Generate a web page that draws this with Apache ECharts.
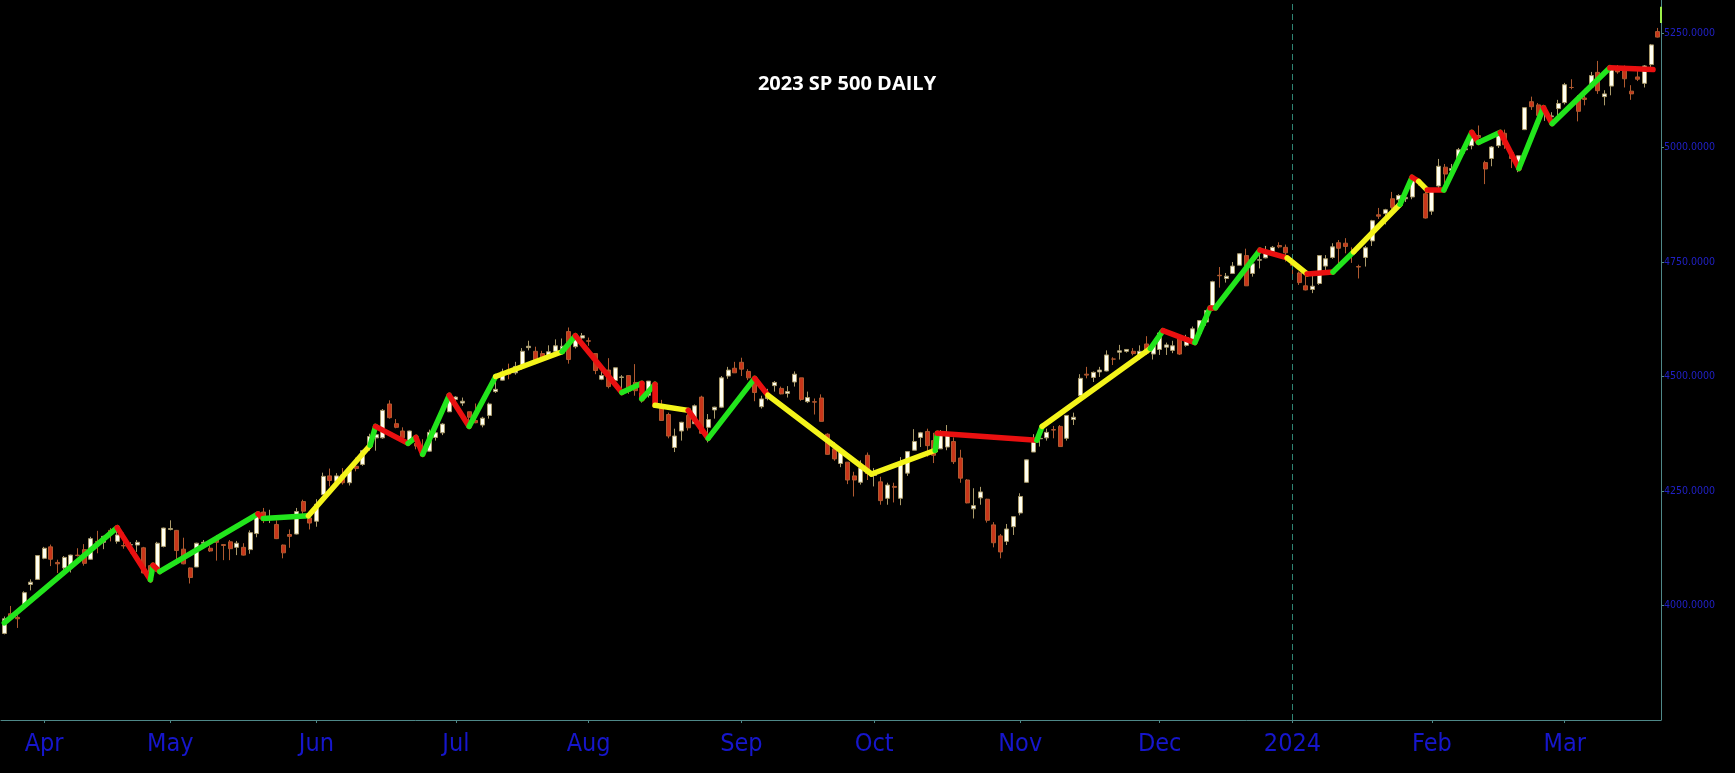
<!DOCTYPE html>
<html><head><meta charset="utf-8">
<script src="https://cdn.jsdelivr.net/npm/echarts@6/dist/echarts.min.js"></script>
<style>html,body{margin:0;padding:0;background:#000;} #c{width:1735px;height:773px;}</style>
</head><body><div id="c"></div>
<script>
const dates = [
'2023-03-24','2023-03-27','2023-03-28','2023-03-29','2023-03-30','2023-03-31',
'2023-04-03','2023-04-04','2023-04-05','2023-04-06','2023-04-10','2023-04-11','2023-04-12','2023-04-13','2023-04-14','2023-04-17','2023-04-18','2023-04-19','2023-04-20','2023-04-21','2023-04-24','2023-04-25','2023-04-26','2023-04-27','2023-04-28',
'2023-05-01','2023-05-02','2023-05-03','2023-05-04','2023-05-05','2023-05-08','2023-05-09','2023-05-10','2023-05-11','2023-05-12','2023-05-15','2023-05-16','2023-05-17','2023-05-18','2023-05-19','2023-05-22','2023-05-23','2023-05-24','2023-05-25','2023-05-26','2023-05-30','2023-05-31',
'2023-06-01','2023-06-02','2023-06-05','2023-06-06','2023-06-07','2023-06-08','2023-06-09','2023-06-12','2023-06-13','2023-06-14','2023-06-15','2023-06-16','2023-06-20','2023-06-21','2023-06-22','2023-06-23','2023-06-26','2023-06-27','2023-06-28','2023-06-29','2023-06-30',
'2023-07-03','2023-07-05','2023-07-06','2023-07-07','2023-07-10','2023-07-11','2023-07-12','2023-07-13','2023-07-14','2023-07-17','2023-07-18','2023-07-19','2023-07-20','2023-07-21','2023-07-24','2023-07-25','2023-07-26','2023-07-27','2023-07-28','2023-07-31',
'2023-08-01','2023-08-02','2023-08-03','2023-08-04','2023-08-07','2023-08-08','2023-08-09','2023-08-10','2023-08-11','2023-08-14','2023-08-15','2023-08-16','2023-08-17','2023-08-18','2023-08-21','2023-08-22','2023-08-23','2023-08-24','2023-08-25','2023-08-28','2023-08-29','2023-08-30','2023-08-31',
'2023-09-01','2023-09-05','2023-09-06','2023-09-07','2023-09-08','2023-09-11','2023-09-12','2023-09-13','2023-09-14','2023-09-15','2023-09-18','2023-09-19','2023-09-20','2023-09-21','2023-09-22','2023-09-25','2023-09-26','2023-09-27','2023-09-28','2023-09-29',
'2023-10-02','2023-10-03','2023-10-04','2023-10-05','2023-10-06','2023-10-09','2023-10-10','2023-10-11','2023-10-12','2023-10-13','2023-10-16','2023-10-17','2023-10-18','2023-10-19','2023-10-20','2023-10-23','2023-10-24','2023-10-25','2023-10-26','2023-10-27','2023-10-30','2023-10-31',
'2023-11-01','2023-11-02','2023-11-03','2023-11-06','2023-11-07','2023-11-08','2023-11-09','2023-11-10','2023-11-13','2023-11-14','2023-11-15','2023-11-16','2023-11-17','2023-11-20','2023-11-21','2023-11-22','2023-11-24','2023-11-27','2023-11-28','2023-11-29','2023-11-30',
'2023-12-01','2023-12-04','2023-12-05','2023-12-06','2023-12-07','2023-12-08','2023-12-11','2023-12-12','2023-12-13','2023-12-14','2023-12-15','2023-12-18','2023-12-19','2023-12-20','2023-12-21','2023-12-22','2023-12-26','2023-12-27','2023-12-28','2023-12-29',
'2024-01-02','2024-01-03','2024-01-04','2024-01-05','2024-01-08','2024-01-09','2024-01-10','2024-01-11','2024-01-12','2024-01-16','2024-01-17','2024-01-18','2024-01-19','2024-01-22','2024-01-23','2024-01-24','2024-01-25','2024-01-26','2024-01-29','2024-01-30','2024-01-31',
'2024-02-01','2024-02-02','2024-02-05','2024-02-06','2024-02-07','2024-02-08','2024-02-09','2024-02-12','2024-02-13','2024-02-14','2024-02-15','2024-02-16','2024-02-20','2024-02-21','2024-02-22','2024-02-23','2024-02-26','2024-02-27','2024-02-28','2024-02-29',
'2024-03-01','2024-03-04','2024-03-05','2024-03-06','2024-03-07','2024-03-08','2024-03-11','2024-03-12','2024-03-13','2024-03-14','2024-03-15','2024-03-18','2024-03-19','2024-03-20','2024-03-21'
];
const open = [
3939,3982,3974,3999,4046,4057,
4103,4128,4094,4082,4085,4110,4122,4101,4140,4138,4164,4140,4131,4132,4132,4126,4087,4075,4129,
4166,4164,4123,4082,4084,4136,4125,4144,4133,4139,4127,4127,4122,4157,4204,4191,4177,4132,4155,4156,4227,4191,
4184,4242,4283,4271,4285,4268,4304,4308,4346,4366,4366,4440,4397,4381,4355,4354,4344,4337,4367,4377,4423,
4450,4442,4423,4404,4394,4415,4467,4492,4514,4508,4521,4563,4555,4550,4544,4555,4559,4598,4565,4584,
4578,4550,4494,4514,4491,4498,4502,4487,4451,4459,4479,4434,4417,4345,4381,4415,4397,4455,4389,4427,4433,4501,4518,
4531,4511,4491,4434,4452,4480,4474,4463,4488,4497,4445,4445,4453,4374,4342,4310,4313,4283,4269,4328,
4284,4270,4234,4260,4234,4289,4339,4367,4380,4360,4342,4346,4358,4322,4274,4211,4235,4232,4176,4152,4140,4172,
4202,4269,4335,4364,4366,4384,4391,4365,4406,4458,4505,4498,4510,4512,4538,4553,4555,4555,4546,4571,4549,
4559,4564,4557,4587,4568,4577,4594,4619,4646,4721,4714,4725,4743,4764,4725,4754,4759,4773,4786,4782,
4745,4726,4698,4690,4703,4741,4760,4792,4791,4772,4740,4760,4796,4853,4856,4888,4886,4888,4892,4925,4899,
4861,4916,4957,4950,4973,4995,5004,5026,4967,4976,5004,5031,4989,4963,5039,5100,5093,5074,5067,5085,
5098,5131,5110,5108,5132,5164,5111,5134,5174,5175,5123,5154,5140,5181,5253
];
const close = [
3971,3977,3971,4028,4051,4109,
4125,4101,4091,4105,4110,4109,4092,4146,4138,4151,4155,4154,4130,4133,4138,4071,4056,4136,4169,
4168,4120,4091,4061,4136,4138,4119,4138,4131,4124,4136,4110,4159,4198,4192,4193,4146,4115,4151,4205,4206,4180,
4221,4282,4273,4283,4268,4294,4299,4338,4369,4373,4426,4410,4389,4366,4381,4348,4328,4378,4377,4396,4450,
4455,4446,4411,4399,4409,4440,4472,4510,4505,4522,4555,4566,4535,4536,4554,4567,4566,4537,4582,4589,
4577,4513,4502,4478,4519,4499,4468,4469,4464,4490,4437,4404,4370,4370,4400,4388,4436,4376,4406,4433,4497,4514,4508,
4516,4497,4465,4451,4458,4487,4462,4467,4505,4450,4454,4444,4402,4330,4320,4337,4274,4274,4300,4288,
4288,4229,4263,4258,4308,4336,4358,4377,4349,4328,4374,4374,4314,4278,4224,4218,4248,4186,4137,4117,4167,4194,
4238,4318,4358,4365,4378,4383,4347,4415,4411,4496,4503,4509,4514,4547,4538,4556,4559,4550,4555,4551,4568,
4595,4569,4567,4549,4585,4604,4622,4644,4707,4720,4719,4741,4768,4698,4746,4755,4775,4782,4783,4770,
4743,4705,4689,4697,4764,4757,4783,4780,4784,4766,4739,4781,4840,4850,4864,4869,4895,4891,4928,4925,4846,
4906,4959,4942,4954,4995,4997,5027,5022,4953,5001,5030,5006,4976,4982,5087,5089,5070,5079,5069,5096,
5137,5131,5079,5105,5157,5124,5117,5175,5165,5150,5117,5149,5178,5224,5241
];
const low = [
3937,3969,3951,3999,4033,4056,
4101,4086,4071,4077,4072,4107,4087,4100,4114,4123,4140,4135,4124,4114,4117,4071,4049,4075,4127,
4164,4089,4090,4048,4084,4124,4117,4098,4099,4099,4110,4109,4113,4149,4180,4180,4145,4103,4126,4155,4192,4166,
4172,4242,4260,4263,4264,4262,4293,4305,4338,4338,4364,4408,4387,4360,4351,4341,4328,4336,4360,4372,4422,
4442,4436,4385,4398,4389,4408,4464,4491,4494,4504,4515,4557,4527,4532,4542,4551,4547,4528,4561,4577,
4567,4505,4492,4474,4491,4464,4462,4458,4443,4454,4432,4404,4365,4335,4360,4382,4397,4375,4356,4408,4431,4495,4508,
4501,4492,4446,4430,4448,4467,4461,4454,4478,4447,4442,4417,4402,4329,4316,4302,4265,4238,4264,4274,
4260,4220,4220,4225,4219,4283,4339,4346,4325,4311,4342,4339,4309,4268,4223,4190,4220,4181,4127,4103,4132,4154,
4197,4268,4335,4347,4360,4365,4346,4360,4394,4456,4496,4488,4499,4511,4525,4537,4552,4546,4537,4547,4537,
4547,4547,4551,4547,4565,4574,4594,4611,4643,4694,4705,4724,4743,4698,4718,4736,4758,4768,4780,4751,
4723,4700,4688,4682,4700,4730,4757,4739,4769,4748,4714,4740,4785,4844,4832,4865,4870,4881,4887,4917,4845,
4853,4907,4917,4941,4969,4987,4996,5017,4920,4959,4999,4997,4955,4946,5038,5082,5068,5058,5058,5061,
5094,5127,5057,5092,5128,5117,5092,5114,5161,5131,5104,5145,5131,5171,5240
];
const high = [
3976,3999,3979,4031,4057,4110,
4128,4133,4100,4108,4111,4125,4134,4150,4163,4152,4169,4162,4159,4138,4143,4128,4089,4139,4170,
4186,4165,4148,4083,4137,4143,4131,4154,4133,4143,4141,4136,4164,4199,4213,4209,4186,4133,4166,4213,4231,4192,
4232,4290,4299,4289,4300,4298,4323,4340,4375,4391,4429,4448,4407,4389,4382,4367,4363,4384,4390,4398,4459,
4457,4454,4423,4441,4412,4443,4488,4517,4528,4532,4562,4578,4565,4556,4568,4581,4583,4607,4594,4595,
4585,4550,4520,4540,4520,4503,4502,4527,4476,4490,4479,4449,4421,4386,4401,4418,4439,4458,4418,4434,4501,4521,4532,
4541,4516,4494,4458,4473,4490,4478,4479,4511,4497,4467,4452,4461,4376,4357,4338,4313,4292,4317,4334,
4300,4281,4268,4268,4324,4337,4385,4379,4386,4377,4383,4394,4367,4340,4276,4256,4259,4233,4182,4156,4178,4194,
4245,4319,4374,4372,4386,4392,4394,4415,4421,4505,4521,4511,4521,4557,4542,4569,4560,4562,4568,4588,4569,
4600,4574,4578,4590,4591,4609,4623,4644,4709,4739,4726,4750,4769,4779,4749,4772,4785,4785,4793,4788,
4755,4729,4727,4721,4764,4765,4791,4798,4802,4782,4744,4785,4842,4868,4866,4903,4898,4907,4929,4932,4907,
4907,4975,4964,4964,4999,5000,5031,5048,4971,5003,5033,5039,4994,4983,5087,5111,5097,5083,5077,5104,
5141,5149,5114,5128,5165,5189,5125,5179,5180,5179,5136,5175,5180,5226,5261
];
// Trend zig-zag: pivot positions (bar index) and prices, and the trend state of each leg (U=up, D=down, N=neutral)
const pivotIdx = [0,17,22,22.4,23.4,38.2,39,45.8,55.1,55.9,60.8,62,63,67,70,74,84,86,93,96,96,98,98,103,106,113,115,130.6,140.2,140.5,155.5,156.3,172.6,174.5,179.3,181.6,182.4,189.1,193.2,196.2,200.1,203.2,210.2,212,213,214.3,216.8,221,222,225.3,228.1,231.8,233.1,241.8,248.3];
const pivotVal = [3962,4170,4056,4088,4074,4200,4190,4196,4350,4391,4354,4367,4330,4459,4391,4500,4554,4589,4465,4485,4451,4483,4437,4426,4365,4496,4459,4287,4339,4376,4361,4391,4561,4600,4574,4650,4650,4776,4759,4724,4728,4772,4876,4935,4926,4907,4907,5033,5011,5033,4954,5087,5052,5174,5170];
const legTrend = ['U','D','U','D','U','D','U','N','U','D','U','D','U','D','U','N','U','D','U','D','U','D','N','D','U','D','N','N','U','D','U','N','U','D','U','D','U','D','N','D','U','N','U','D','N','D','U','D','U','D','U','D','U','D'];
const lastBarMark = [249.5, 5272, 5307];
const monthNames = ['Jan','Feb','Mar','Apr','May','Jun','Jul','Aug','Sep','Oct','Nov','Dec'];
const markDate = '2024-01-02';

const trendColor = {U:'#22e51c', D:'#ea1010', N:'#f4f41a'};
const candleData = dates.map((d,i)=>[open[i], close[i], low[i], high[i]]);
const isMonthStart = i => i > 0 && dates[i].slice(5,7) !== dates[i-1].slice(5,7);
const legs = legTrend.map((t,k)=>({
  coords:[[pivotIdx[k], pivotVal[k]],[pivotIdx[k+1], pivotVal[k+1]]],
  lineStyle:{color: trendColor[t]}
}));
legs.push({coords:[[lastBarMark[0], lastBarMark[1]],[lastBarMark[0], lastBarMark[2]]], lineStyle:{color:'#9cf04a', width:2, cap:'butt'}});

const chart = echarts.init(document.getElementById('c'));
const axisCol = '#4e8888';
chart.setOption({
  animation:false,
  backgroundColor:'#000000',
  grid:{left:1, right:74, top:0, bottom:53},
  graphic:[{type:'text', x:847, y:84, style:{text:'2023 SP 500 DAILY', fill:'#ffffff', font:'bold 20px "Open Sans", sans-serif', align:'center', verticalAlign:'middle'}}],
  xAxis:[{
    type:'category', data:dates, boundaryGap:true,
    axisLine:{show:true, onZero:false, lineStyle:{color:axisCol, width:1}},
    axisTick:{show:true, interval:(i)=>isMonthStart(i), alignWithLabel:true, length:3, lineStyle:{color:axisCol}},
    axisLabel:{interval:(i)=>isMonthStart(i), margin:12, color:'#1616cc', fontSize:25,
      fontFamily:'"DejaVu Sans Condensed","Open Sans",sans-serif',
      formatter:(v)=>{const m=+v.slice(5,7); return m===1 ? v.slice(0,4) : monthNames[m-1];}},
    splitLine:{show:false}
  },{
    type:'value', min:-0.5, max:249.5, show:false
  }],
  yAxis:{
    type:'value', position:'right', min:3750, max:5322, interval:250, scale:true,
    axisLine:{show:true, onZero:false, lineStyle:{color:axisCol, width:1}},
    axisTick:{show:true, length:3, lineStyle:{color:axisCol}},
    axisLabel:{show:true, color:'#2020c4', fontSize:10.5, margin:3, showMinLabel:false, showMaxLabel:false,
      fontFamily:'"DejaVu Sans Condensed","DejaVu Sans",sans-serif',
      formatter:(v)=>v.toFixed(4)},
    splitLine:{show:false}
  },
  series:[{
    type:'candlestick', data:candleData, xAxisIndex:0, yAxisIndex:0, barWidth:4.5,
    itemStyle:{color:'#fffff2', color0:'#c8361a', borderColor:'#aa9a6a', borderColor0:'#b05a30', borderWidth:1},
    markLine:{silent:true, symbol:['none','none'], label:{show:false},
      lineStyle:{color:'#2f8574', type:[6,4], width:1},
      data:[{xAxis:markDate}]}
  },{
    type:'lines', coordinateSystem:'cartesian2d', xAxisIndex:1, yAxisIndex:0, polyline:false, z:5,
    lineStyle:{width:5.5, cap:'round', join:'round', opacity:1},
    data:legs
  }]
});
</script></body></html>
